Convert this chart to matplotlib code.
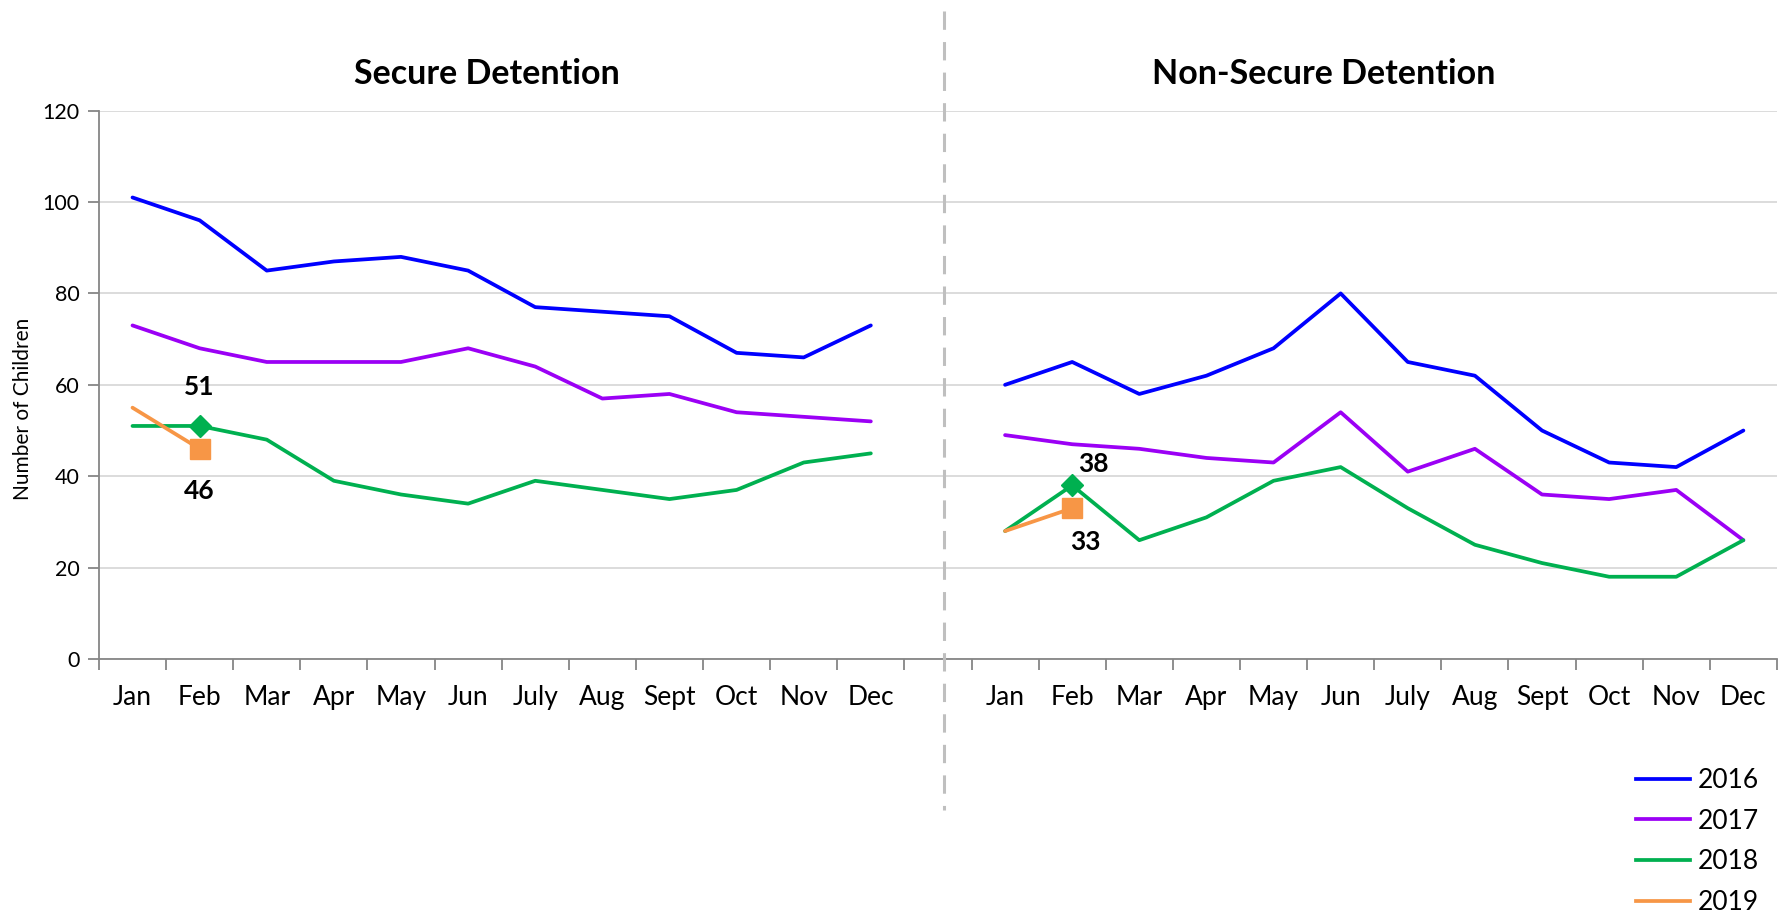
import matplotlib
matplotlib.use("Agg")
import matplotlib.pyplot as plt
from matplotlib.lines import Line2D

plt.rcParams['font.family'] = ['Lato', 'DejaVu Sans']

months = ["Jan", "Feb", "Mar", "Apr", "May", "Jun", "July", "Aug", "Sept", "Oct", "Nov", "Dec"]
years = ["2016", "2017", "2018", "2019"]
colors = ["#0000FF", "#9B00F5", "#00B050", "#F79646"]

secure_2016 = [101, 96, 85, 87, 88, 85, 77, 76, 75, 67, 66, 73]
secure_2017 = [73, 68, 65, 65, 65, 68, 64, 57, 58, 54, 53, 52]
secure_2018 = [51, 51, 48, 39, 36, 34, 39, 37, 35, 37, 43, 45]
secure_2019 = [55, 46]

nonsecure_2016 = [60, 65, 58, 62, 68, 80, 65, 62, 50, 43, 42, 50]
nonsecure_2017 = [49, 47, 46, 44, 43, 54, 41, 46, 36, 35, 37, 26]
nonsecure_2018 = [28, 38, 26, 31, 39, 42, 33, 25, 21, 18, 18, 26]
nonsecure_2019 = [28, 33]

panel_titles = ["Secure Detention", "Non-Secure Detention"]

fig = plt.figure(figsize=(17.83, 9.13), dpi=100)
ax = fig.add_axes([0.0555, 0.2782, 0.9411, 0.6006])

x_left = list(range(12))
x_right = [i + 13 for i in range(12)]

lw = 2.7
for xs, series in ((x_left, [secure_2016, secure_2017, secure_2018, secure_2019]),
                   (x_right, [nonsecure_2016, nonsecure_2017, nonsecure_2018, nonsecure_2019])):
    for s, c in zip(series, colors):
        ax.plot(xs[:len(s)], s, color=c, lw=lw, solid_capstyle='round', zorder=3)
    # markers on latest month (Feb)
    ax.plot(xs[1], series[2][1], marker='D', color=colors[2], markersize=11, zorder=4)
    ax.plot(xs[1], series[3][1], marker='s', color=colors[3], markersize=14, zorder=5)

# data labels
lab_kw = dict(fontsize=19, fontweight='bold', ha='center', va='center', color='black')
ax.text(x_left[1], 59.5, str(secure_2018[1]), **lab_kw)
ax.text(x_left[1], 36.8, str(secure_2019[1]), **lab_kw)
ax.text(x_right[1] + 0.31, 42.7, str(nonsecure_2018[1]), **lab_kw)
ax.text(x_right[1] + 0.19, 25.6, str(nonsecure_2019[1]), **lab_kw)

ax.set_xlim(-0.5, 24.5)
ax.set_ylim(0, 120)
ax.set_yticks(range(0, 121, 20))
ax.yaxis.grid(True, color='#d9d9d9', lw=1.3)
ax.set_axisbelow(True)

ax.set_xticks(x_left + x_right)
ax.set_xticklabels(months + months, fontsize=19)
ax.set_xticks([i - 0.5 for i in range(26)], minor=True)
ax.tick_params(axis='x', which='major', length=0, pad=19)
ax.tick_params(axis='x', which='minor', length=8, width=1.3, color='#868686')
ax.tick_params(axis='y', length=8, width=1.3, color='#868686', labelsize=15.5, pad=6)

for sp in ['top', 'right']:
    ax.spines[sp].set_visible(False)
for sp in ['left', 'bottom']:
    ax.spines[sp].set_color('#868686')
    ax.spines[sp].set_linewidth(1.3)

ax.set_ylabel("Number of Children", fontsize=15)
ax.yaxis.set_label_coords(-0.0396, 0.456)

# panel titles
ax.text(5.28, 1.067, panel_titles[0], transform=ax.get_xaxis_transform(),
        ha='center', va='center', fontsize=24.5, fontweight='bold')
ax.text(17.75, 1.067, panel_titles[1], transform=ax.get_xaxis_transform(),
        ha='center', va='center', fontsize=24.5, fontweight='bold')

# dashed separator
fig.add_artist(Line2D([944 / 1783, 944 / 1783], [1 - 11 / 913, 1 - 810 / 913],
                      transform=fig.transFigure, color='#bfbfbf', lw=2.2,
                      linestyle=(0, (6, 4))))

# legend
handles = [Line2D([0], [0], color=c, lw=lw) for c in colors]
leg = fig.legend(handles, years, loc='lower right', bbox_to_anchor=(1.0, -0.028),
                 frameon=False, fontsize=19, handlelength=2.07, handletextpad=0.3,
                 labelspacing=0.59)

fig.savefig("out.png", dpi=100)
